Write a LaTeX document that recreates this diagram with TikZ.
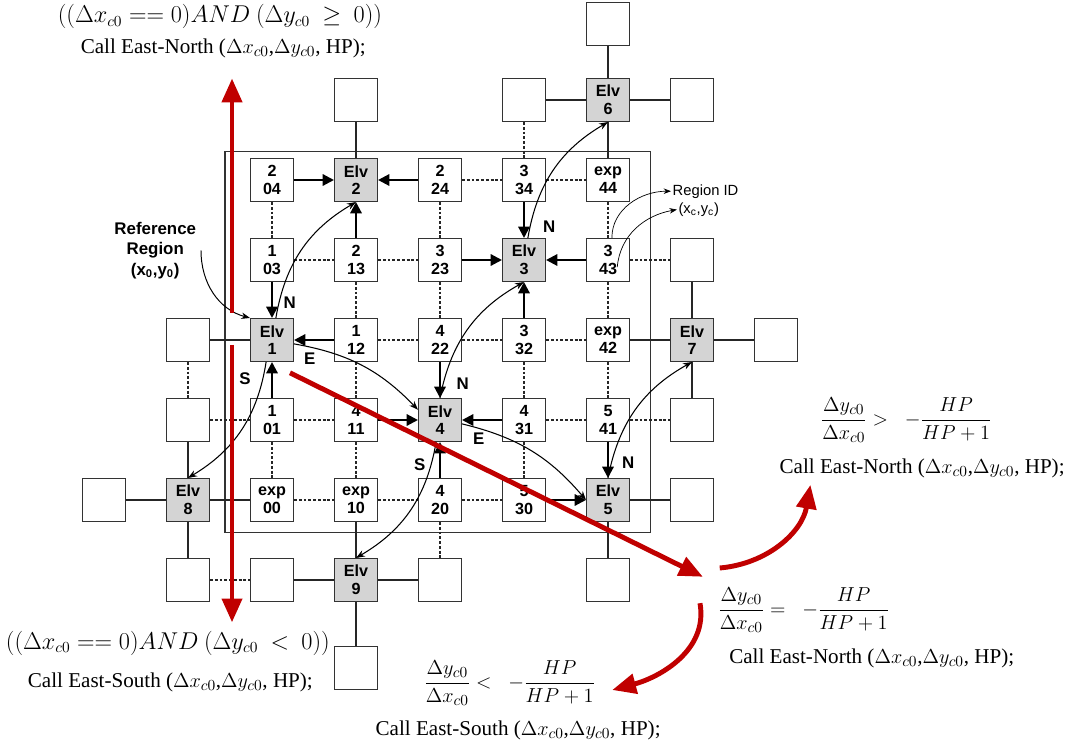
\documentclass[tikz,border=0pt]{standalone}
\usepackage{amsmath,amssymb}
\usepackage{fontspec}
\setmainfont{Liberation Serif}
\setsansfont{Liberation Sans}
\usetikzlibrary{arrows.meta}
\definecolor{routered}{RGB}{192,0,0}
\definecolor{elvgray}{RGB}{212,212,212}

\begin{document}
\begin{tikzpicture}[x=2.1cm, y=2cm, >=Stealth,
  cell/.style={draw=black!80, line width=0.9pt, fill=white, minimum size=1.07cm, inner sep=0pt,
    align=center, font=\sffamily\bfseries\fontsize{11.5}{12.5}\selectfont},
  elv/.style={cell, fill=elvgray},
  link/.style={line width=0.8pt, black!85},
  dotlink/.style={link, dash pattern=on 2pt off 1.4pt},
  push/.style={line width=1.6pt, -{Triangle[length=8pt,width=8pt]}},
  hop/.style={line width=0.75pt, ->, bend left=25},
  dir/.style={font=\sffamily\bfseries\fontsize{12}{12}\selectfont},
  route/.style={routered, line width=3.5pt, -{Triangle[length=17pt,width=14pt]}},
  cond/.style={font=\fontsize{16}{18}\selectfont},
  frac/.style={font=\fontsize{15.5}{18}\selectfont},
  call/.style={font=\fontsize{15}{17}\selectfont}]

\useasboundingbox (-3.2381,6.25) rectangle (9.4881,-3.1125);

% ---------- building frame ----------
\draw[line width=0.9pt, black!80] (-0.56,4.36) rectangle (4.51,-0.41);

% ---------- regions (owner / id) ----------
\foreach \x/\y/\own in {0/4/2, 2/4/2, 3/4/3, 4/4/exp, 0/3/1, 1/3/2, 2/3/3, 4/3/3,
                        1/2/1, 2/2/4, 3/2/3, 4/2/exp, 0/1/1, 1/1/4, 3/1/4, 4/1/5,
                        0/0/exp, 1/0/exp, 2/0/4, 3/0/5}
  \node[cell] (c\x\y) at (\x,\y) {\own\\\x\y};

% ---------- elevators ----------
\foreach \x/\y/\k in {0/2/1, 1/4/2, 3/3/3, 2/1/4, 4/0/5, 4/5/6, 5/2/7, -1/0/8, 1/-1/9}
  \node[elv] (elv\k) at (\x,\y) {Elv\\\k};

% ---------- empty regions outside ----------
\foreach \x/\y/\nm in {1/5/up2, 3/5/up34, 4/5.95/up6, 5/5/rt6, 5/3/rt43, 6/2/rt7, 5/1/rt41,
                       5/0/rt5, 4/-1/dn5, -1/2/lt1, -1/1/lt01, -2/0/lt8, -1/-1/dn8,
                       0/-1/dn00, 2/-1/dn20, 1/-2.1/dn9}
  \node[cell] (\nm) at (\x,\y) {};

% ---------- links ----------
\foreach \a/\b in {elv2/up2, up34/elv6, elv6/rt6, elv6/up6, elv6/c44, rt43/elv7, elv7/c42,
                   elv7/rt7, elv7/rt41, lt1/elv1, lt01/elv8, lt8/elv8, elv8/c00, elv8/dn8,
                   dn00/elv9, elv9/dn20, elv9/dn9, c10/elv9, elv5/rt5, elv5/dn5}
  \draw[link] (\a) -- (\b);
\foreach \a/\b in {c24/c34, c34/c44, c04/c03, c24/c23, c44/c43, up34/c34, c03/c13, c13/c23,
                   c43/rt43, c13/c12, c23/c22, c43/c42, c12/c22, c22/c32, c32/c42, lt1/lt01,
                   c12/c11, c32/c31, c42/c41, lt01/c01, c01/c11, c31/c41, c41/rt41, c01/c00,
                   c11/c10, c31/c30, c00/c10, c10/c20, c20/c30, c20/dn20, dn8/dn00}
  \draw[dotlink] (\a) -- (\b);

% ---------- regions report to their elevator ----------
\foreach \a/\b in {c04/elv2, c24/elv2, c13/elv2, c34/elv3, c23/elv3, c43/elv3, c32/elv3,
                   c03/elv1, c12/elv1, c01/elv1, c22/elv4, c11/elv4, c31/elv4, c20/elv4,
                   c41/elv5, c30/elv5}
  \draw[push] (\a) -- (\b);

% ---------- elevator hops ----------
\draw[hop] (elv1.80) to (elv2.south);
\draw[hop] (elv4.north) to (elv3.south);
\draw[hop] (elv3.80) to (elv6.south);
\draw[hop, bend left=18] (elv1.-10) to (elv4.155);
\draw[hop, bend left=18] (elv4.-10) to (elv5.west);
\draw[hop] (elv5.north) to (elv7.south);
\draw[hop] (elv1.255) to (elv8.north);
\draw[hop] (elv4.260) to (elv9.north);

\node[dir] (n1) at (0.21,2.47) {N};
\node[dir] (e1) at (0.45,1.77) {E};
\node[dir] (s1) at (-0.32,1.52) {S};
\node[dir] (n3) at (3.3,3.42) {N};
\node[dir] (n4) at (2.27,1.46) {N};
\node[dir] (e4) at (2.46,0.77) {E};
\node[dir] (s4) at (1.76,0.44) {S};
\node[dir] (n5) at (4.24,0.47) {N};

% ---------- annotations ----------
\node[font=\sffamily\bfseries\fontsize{12}{14.5}\selectfont, align=center] (refreg) at (-1.39,3.12)
  {Reference\\Region\\(x\textsubscript{0},y\textsubscript{0})};
\draw[->, line width=0.7pt] (refreg.east) to[out=-90, in=165] (elv1.north west);

\node[font=\sffamily\fontsize{10.5}{12}\selectfont, anchor=west, inner sep=1pt] (regid) at (4.75,3.86) {Region ID};
\node[font=\sffamily\fontsize{10.5}{12}\selectfont, anchor=west, inner sep=1pt] (regxy) at (4.82,3.63)
  {(x\textsubscript{c},y\textsubscript{c})};
\draw[->, line width=0.5pt] (c43.80) to[out=90, in=180] (regid.west);
\draw[->, line width=0.5pt] ([shift={(0.11,-0.09)}]c43.center) to[out=85, in=190] (regxy.west);

% ---------- routing conditions ----------
\node[cond] (encond) at (-0.62,6.04) {$((\Delta x_{c0} == 0) AND\ (\Delta y_{c0}\ \geq\ 0))$};
\node[call] (encall) at (-0.58,5.65) {Call East-North ($\Delta x_{c0}$,$\Delta y_{c0}$, HP);};
\node[cond] (escond) at (-1.24,-1.79) {$((\Delta x_{c0} == 0) AND\ (\Delta y_{c0}\ <\ 0))$};
\node[call] (escall) at (-1.21,-2.28) {Call East-South ($\Delta x_{c0}$,$\Delta y_{c0}$, HP);};

\node[frac] (gtcond) at (7.55,1.0) {$\dfrac{\Delta y_{c0}}{\Delta x_{c0}} >\;\; -\dfrac{HP}{HP+1}$};
\node[call] (gtcall) at (7.74,0.4) {Call East-North ($\Delta x_{c0}$,$\Delta y_{c0}$, HP);};
\node[frac] (eqcond) at (6.33,-1.375) {$\dfrac{\Delta y_{c0}}{\Delta x_{c0}} =\;\; -\dfrac{HP}{HP+1}$};
\node[call] (eqcall) at (7.14,-1.975) {Call East-North ($\Delta x_{c0}$,$\Delta y_{c0}$, HP);};
\node[frac] (ltcond) at (2.83,-2.29) {$\dfrac{\Delta y_{c0}}{\Delta x_{c0}} <\;\; -\dfrac{HP}{HP+1}$};
\node[call] (ltcall) at (2.93,-2.875) {Call East-South ($\Delta x_{c0}$,$\Delta y_{c0}$, HP);};

% ---------- routing directions ----------
\coordinate (upstart) at (-0.476,2.34);
\coordinate (uptip) at (-0.476,5.27);
\coordinate (dnstart) at (-0.476,1.94);
\coordinate (dntip) at (-0.476,-1.53);
\coordinate (diagstart) at (0.214,1.59);
\coordinate (diagtip) at (5.13,-0.96);
\coordinate (forkup) at (5.33,-0.85);
\coordinate (gttip) at (6.41,0.19);
\coordinate (forkdn) at (5.095,-1.29);
\coordinate (lttip) at (4.05,-2.375);

\draw[route] (upstart) -- (uptip);
\draw[route] (dnstart) -- (dntip);
\draw[route] (diagstart) -- (diagtip);
\draw[route] (forkup) to[out=5, in=-100] (gttip);
\draw[route] (forkdn) to[out=-80, in=15] (lttip);

\end{tikzpicture}
\end{document}
